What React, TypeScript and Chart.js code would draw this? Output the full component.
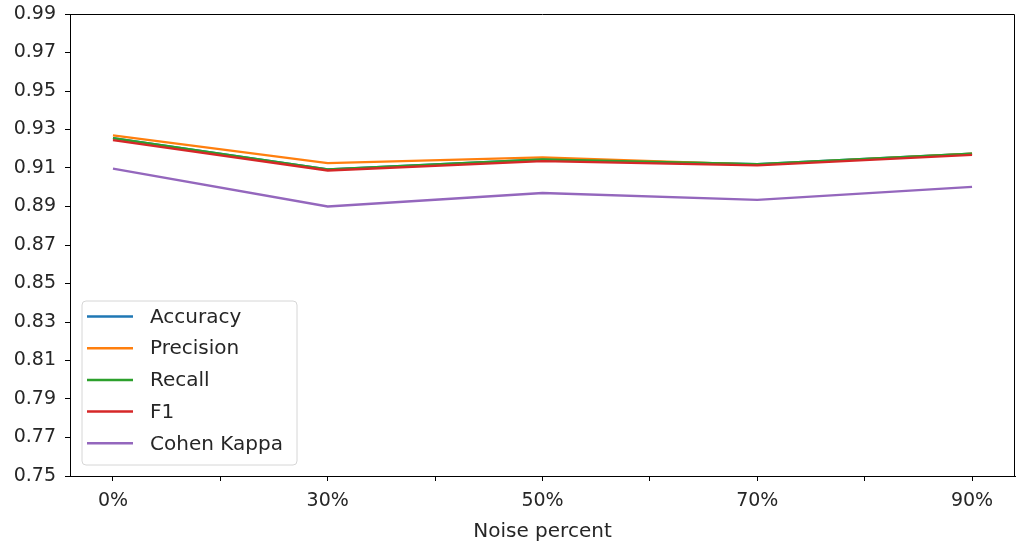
import React, { useEffect, useRef } from "react";
import { Chart, registerables } from "chart.js";

Chart.register(...registerables);

// Noise levels on the x axis
const categories = ["0%", "30%", "50%", "70%", "90%"];

// Scores per noise level
const accuracy = [0.9255, 0.9093, 0.9145, 0.912, 0.9175];
const precision = [0.927, 0.9125, 0.9155, 0.9118, 0.9175];
const recall = [0.9255, 0.9093, 0.9145, 0.912, 0.9175];
const f1 = [0.9245, 0.9087, 0.9136, 0.9114, 0.9168];
const cohenKappa = [0.9097, 0.89, 0.897, 0.8934, 0.9002];

const seriesNames = ["Accuracy", "Precision", "Recall", "F1", "Cohen Kappa"];
const seriesColors = ["#1f77b4", "#ff7f0e", "#2ca02c", "#d62728", "#9467bd"];
const seriesValues = [accuracy, precision, recall, f1, cohenKappa];

// y tick labels
const yTickLabels = ["0.75", "0.77", "0.79", "0.81", "0.83", "0.85", "0.87", "0.89", "0.91", "0.93", "0.95", "0.97", "0.99"];

const FONT = "'DejaVu Sans', sans-serif";
const TEXT = "#262626";

// Closes the frame on the top and right and draws the boxed legend in the lower left
const framePlugin = {
  id: "frameAndLegend",
  afterDatasetsDraw(chart: any) {
    const { ctx, chartArea } = chart;
    ctx.save();
    ctx.strokeStyle = "#000";
    ctx.lineWidth = 1;
    ctx.beginPath();
    ctx.moveTo(Math.round(chartArea.left) + 0.5, Math.round(chartArea.top) + 0.5);
    ctx.lineTo(Math.round(chartArea.right) - 0.5, Math.round(chartArea.top) + 0.5);
    ctx.lineTo(Math.round(chartArea.right) - 0.5, Math.round(chartArea.bottom) + 0.5);
    ctx.stroke();

    // legend box
    const bx = chartArea.left + 12;
    const by = chartArea.bottom - 175;
    const bw = 215;
    const bh = 164;
    const r = 4;
    ctx.beginPath();
    ctx.moveTo(bx + r, by);
    ctx.lineTo(bx + bw - r, by);
    ctx.arcTo(bx + bw, by, bx + bw, by + r, r);
    ctx.lineTo(bx + bw, by + bh - r);
    ctx.arcTo(bx + bw, by + bh, bx + bw - r, by + bh, r);
    ctx.lineTo(bx + r, by + bh);
    ctx.arcTo(bx, by + bh, bx, by + bh - r, r);
    ctx.lineTo(bx, by + r);
    ctx.arcTo(bx, by, bx + r, by, r);
    ctx.closePath();
    ctx.fillStyle = "rgba(255,255,255,0.8)";
    ctx.fill();
    ctx.strokeStyle = "#d6d6d6";
    ctx.stroke();

    ctx.font = `20px ${FONT}`;
    ctx.textBaseline = "middle";
    ctx.textAlign = "left";
    seriesNames.forEach((name, i) => {
      const y = by + 15.5 + i * 31.7;
      ctx.strokeStyle = seriesColors[i];
      ctx.lineWidth = 2.5;
      ctx.beginPath();
      ctx.moveTo(bx + 5, y);
      ctx.lineTo(bx + 51, y);
      ctx.stroke();
      ctx.fillStyle = TEXT;
      ctx.fillText(name, bx + 68, y + 1);
    });
    ctx.restore();
  },
};

export default function App() {
  const canvasRef = useRef<HTMLCanvasElement | null>(null);

  useEffect(() => {
    const canvas = canvasRef.current;
    if (!canvas) return;

    // later series are painted over earlier ones
    const datasets = seriesNames.map((name, i) => ({
      label: name,
      data: seriesValues[i].map((v, j) => ({ x: j, y: v })),
      borderColor: seriesColors[i],
      backgroundColor: seriesColors[i],
      borderWidth: 2.3,
      pointRadius: 0,
      tension: 0,
      fill: false,
      order: seriesNames.length - i,
    }));

    const chart = new Chart(canvas, {
      type: "line",
      data: { datasets },
      plugins: [framePlugin],
      options: {
        responsive: false,
        animation: false,
        layout: { padding: { top: 14, right: 2, left: 0, bottom: 0 } },
        plugins: {
          legend: { display: false },
          tooltip: { enabled: false },
        },
        scales: {
          x: {
            type: "linear",
            min: -0.2,
            max: 4.2,
            afterBuildTicks: (scale: any) => {
              const ticks = [];
              for (let k = 0; k <= 8; k++) ticks.push({ value: k / 2 });
              scale.ticks = ticks;
            },
            afterFit: (scale: any) => {
              scale.height = 69;
              scale.paddingLeft = 0;
              scale.paddingRight = 0;
            },
            ticks: {
              autoSkip: false,
              maxRotation: 0,
              padding: 9,
              color: TEXT,
              font: { family: FONT, size: 19 },
              callback: (value: any) =>
                Number.isInteger(value) ? categories[value] : "",
            },
            grid: {
              drawOnChartArea: false,
              drawTicks: true,
              tickLength: 5,
              tickColor: "#000",
              tickWidth: 1,
            },
            border: { display: true, color: "#000", width: 1 },
            title: {
              display: true,
              text: "Noise percent",
              color: TEXT,
              font: { family: FONT, size: 20 },
              padding: { top: 0, bottom: 1 },
            },
          },
          y: {
            type: "linear",
            min: 0.75,
            max: 0.99,
            afterBuildTicks: (scale: any) => {
              scale.ticks = yTickLabels.map((t) => ({ value: parseFloat(t) }));
            },
            afterFit: (scale: any) => {
              scale.width = 70;
              scale.paddingTop = 0;
              scale.paddingBottom = 0;
            },
            ticks: {
              autoSkip: false,
              padding: 9,
              color: TEXT,
              font: { family: FONT, size: 19 },
              callback: (value: any) => Number(value).toFixed(2),
            },
            grid: {
              drawOnChartArea: false,
              drawTicks: true,
              tickLength: 5,
              tickColor: "#000",
              tickWidth: 1,
            },
            border: { display: true, color: "#000", width: 1 },
          },
        },
      },
    });

    return () => chart.destroy();
  }, []);

  return (
    <div style={{ position: "absolute", left: 0, top: 0, width: 1017, height: 545, background: "#fff" }}>
      <canvas ref={canvasRef} width={1017} height={545} style={{ display: "block" }} />
    </div>
  );
}
